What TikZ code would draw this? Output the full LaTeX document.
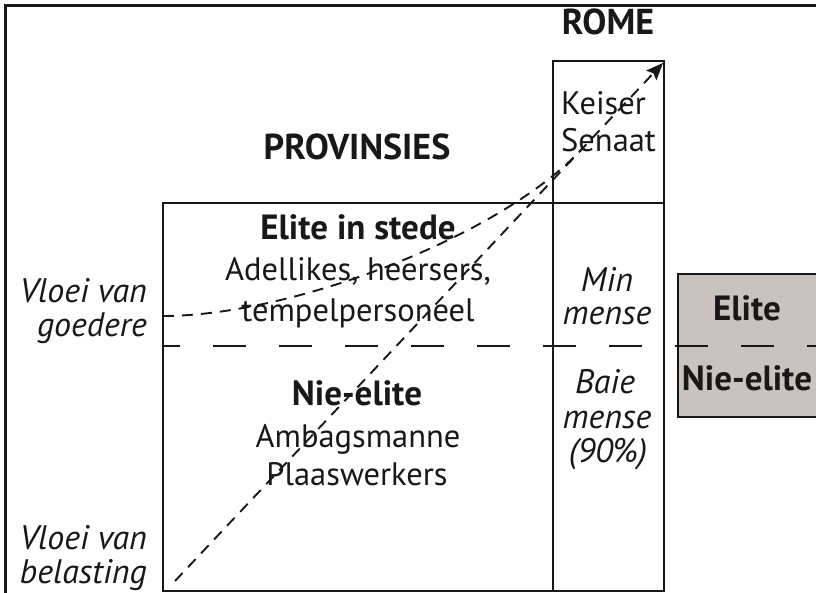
\documentclass[tikz,border=0pt]{standalone}
\usepackage{fontspec}
\setmainfont{PT Sans}
\usetikzlibrary{arrows.meta}
\definecolor{ink}{HTML}{1A1718}
\definecolor{boxgray}{HTML}{C9C2BD}
\begin{document}
\begin{tikzpicture}[x=1pt,y=-1pt,
  frame/.style={line width=3pt, draw=ink},
  boxline/.style={line width=2.2pt, draw=ink},
  sepline/.style={line width=2.2pt, draw=ink, dash pattern=on 33pt off 33pt, dash phase=16pt},
  flow/.style={line width=1.9pt, draw=ink, dash pattern=on 11pt off 8pt},
  txt/.style={font=\fontsize{32.5}{41}\selectfont, text=ink, inner sep=0pt},
  itxt/.style={font=\fontsize{34}{41}\itshape\selectfont, text=ink, inner sep=0pt},
  btxt/.style={font=\fontsize{35}{41}\bfseries\selectfont, text=ink, inner sep=0pt},
  head/.style={font=\fontsize{36}{40}\bfseries\selectfont, text=ink, inner sep=0pt}
]
\useasboundingbox (0,0) rectangle (816,593);
% outer frame (top and left)
\draw[frame] (5,593) -- (5,6) -- (816,6);
% boxes
\draw[boxline] (163,203) rectangle (664,591);
\draw[boxline] (553,61) rectangle (664,203);
\draw[boxline] (553,203) -- (553,591);
% gray legend box
\draw[boxline, fill=boxgray] (678,274) rectangle (820,417);
% elite / non-elite separator
\coordinate (sepL) at (163,346);
\coordinate (sepR) at (816,346);
\draw[sepline] (sepL) -- (sepR);
% flows
\coordinate (taxstart) at (175,581);
\coordinate (goodsstart) at (163,316);
\coordinate (merge) at (581,150);
\coordinate (romecorner) at (663,63);
\draw[flow] (goodsstart) .. controls (290,316) and (498,238) .. (merge);
\draw[flow, -{Stealth[length=17pt,width=14pt,inset=3pt]}] (taxstart) -- (romecorner);
% texts
\node[head, anchor=base] (rome) at (608,35) {ROME};
\node[head, anchor=base] (prov) at (357,160) {PROVINSIES};
\node[txt, anchor=base west] (keiser) at (561,115) {Keiser};
\node[txt, anchor=base west] (senaat) at (561,152) {Senaat};
\node[btxt, anchor=base] (elite) at (358,240) {Elite in stede};
\node[txt, anchor=base] (adel) at (358,281) {Adellikes, heersers,};
\node[txt, anchor=base] (tempel) at (358,322) {tempelpersoneel};
\node[btxt, anchor=base] (nie) at (357,405) {Nie-elite};
\node[txt, anchor=base] (amb) at (358,447) {Ambagsmanne};
\node[txt, anchor=base] (plaas) at (357,485) {Plaaswerkers};
\node[itxt, anchor=base] (min) at (607,292) {Min};
\node[itxt, anchor=base] (mense1) at (607,325) {mense};
\node[itxt, anchor=base] (baie) at (605,393) {Baie};
\node[itxt, anchor=base] (mense2) at (607,428) {mense};
\node[itxt, anchor=base] (pct) at (608,462) {(90\%)};
\node[itxt, anchor=base east] (vloei1) at (147,303) {Vloei van};
\node[itxt, anchor=base east] (goedere) at (147,337) {goedere};
\node[itxt, anchor=base east] (vloei2) at (147,549) {Vloei van};
\node[itxt, anchor=base east] (belasting) at (147,583) {belasting};
\node[btxt, anchor=base] (gelite) at (747,320) {Elite};
\node[btxt, anchor=base] (gnie) at (747,390) {Nie-elite};
\end{tikzpicture}
\end{document}
